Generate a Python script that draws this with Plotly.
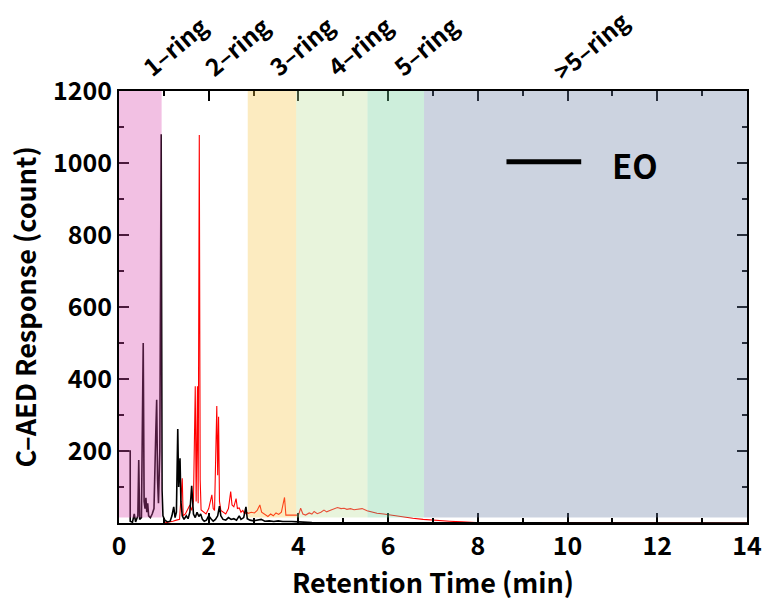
import plotly.graph_objects as go

# EO chromatogram (black)
eo_time = [0.00, 0.25, 0.25, 0.30, 0.34, 0.37, 0.42, 0.44, 0.46, 0.50, 0.54, 0.56, 0.58, 0.60,
           0.62, 0.64, 0.66, 0.70, 0.74, 0.78, 0.82, 0.84, 0.86, 0.88, 0.91, 0.94, 0.96, 0.98,
           1.02, 1.08, 1.14, 1.18, 1.22, 1.25, 1.28, 1.31, 1.33, 1.34, 1.36, 1.38, 1.41, 1.45,
           1.50, 1.54, 1.58, 1.62, 1.64, 1.66, 1.70, 1.74, 1.78, 1.82, 1.86, 1.90, 1.95, 2.00,
           2.05, 2.10, 2.15, 2.20, 2.24, 2.27, 2.32, 2.38, 2.44, 2.50, 2.56, 2.62, 2.68, 2.72,
           2.78, 2.83, 2.86, 2.92, 3.00, 3.08, 3.17, 3.25, 3.35, 3.45, 3.55, 3.65, 3.75, 3.85,
           4.00, 4.30, 5.00, 6.00, 8.00, 14.00]
eo_resp = [200, 200, 5, 2, 25, 3, 20, 175, 10, 15, 500, 60, 40, 70,
           30, 55, 20, 15, 25, 40, 250, 342, 120, 55, 200, 1080, 90, 20,
           8, 3, 5, 20, 45, 15, 30, 261, 100, 160, 180, 60, 20, 10,
           20, 12, 30, 103, 40, 25, 15, 30, 18, 25, 10, 5, 8, 20,
           12, 5, 10, 20, 47, 20, 10, 8, 15, 10, 12, 8, 20, 10,
           15, 45, 12, 8, 6, 8, 10, 5, 6, 4, 6, 4, 5, 4,
           3, 1, 0.5, 0.3, 0.2, 0]

# second chromatogram (red)
red_time = [1.00, 1.10, 1.20, 1.28, 1.35, 1.41, 1.43, 1.48, 1.53, 1.58, 1.62, 1.66, 1.70, 1.72,
            1.75, 1.765, 1.79, 1.81, 1.83, 1.88, 1.94, 2.00, 2.04, 2.07, 2.10, 2.13, 2.18, 2.20,
            2.22, 2.24, 2.27, 2.32, 2.38, 2.44, 2.49, 2.52, 2.56, 2.61, 2.64, 2.68, 2.72, 2.76,
            2.80, 2.84, 2.88, 2.95, 3.02, 3.08, 3.14, 3.18, 3.24, 3.32, 3.38, 3.44, 3.50, 3.56,
            3.62, 3.69, 3.72, 3.80, 3.90, 4.00, 4.05, 4.10, 4.16, 4.24, 4.30, 4.35, 4.42, 4.50,
            4.57, 4.63, 4.70, 4.78, 4.87, 4.95, 5.02, 5.08, 5.16, 5.24, 5.32, 5.42, 5.53, 5.65,
            5.75, 5.90, 6.05, 6.20, 6.34, 6.55, 6.78, 7.05, 7.37, 7.65, 7.96, 9.00, 10.00, 11.00,
            12.00, 13.00, 14.00]
red_resp = [0, 2, 5, 8, 10, 124, 20, 25, 40, 50, 35, 60, 380, 60,
            380, 55, 1078, 120, 36, 30, 25, 40, 60, 78, 40, 35, 325, 133,
            295, 60, 35, 30, 25, 40, 87, 50, 45, 68, 40, 42, 30, 35,
            25, 30, 27, 30, 28, 35, 50, 30, 25, 18, 25, 20, 28, 24,
            30, 71, 22, 22, 20, 22, 41, 25, 22, 28, 25, 32, 26, 30,
            36, 31, 35, 38, 43, 40, 41, 38, 40, 37, 38, 40, 34, 30,
            27, 25, 22, 19, 16, 13, 10, 7, 5, 3, 1.5, 1, 1, 1.5,
            1, 0.5, 0]

# ring-number retention windows
ring_labels = ["1–ring", "2–ring", "3–ring", "4–ring", "5–ring", ">5–ring"]
ring_start = [0.0, 0.95, 2.87, 3.95, 5.54, 6.80]
ring_end = [0.95, 2.87, 3.95, 5.54, 6.80, 14.0]
ring_colors = ["rgb(218,75,175)", None, "rgb(246,198,75)", "rgb(189,224,155)",
               "rgb(112,206,152)", "rgb(109,129,166)"]
label_pos = [1.24, 2.62, 4.06, 5.36, 6.83, 10.50]

FONT = "Noto Sans CJK JP"

fig = go.Figure()
fig.add_trace(go.Scatter(x=red_time, y=red_resp, mode="lines",
                         line=dict(color="rgb(255,0,0)", width=1.1), showlegend=False))
fig.add_trace(go.Scatter(x=eo_time, y=eo_resp, mode="lines", name="EO",
                         line=dict(color="black", width=1.6), showlegend=False))

for x0, x1, c in zip(ring_start, ring_end, ring_colors):
    if c is None:
        continue
    fig.add_shape(type="rect", xref="x", yref="y", x0=x0, x1=x1, y0=15, y1=1200,
                  fillcolor=c, opacity=0.35, line_width=0, layer="above")

for lab, xp in zip(ring_labels, label_pos):
    fig.add_annotation(x=xp, y=1.105, xref="x", yref="paper", text=lab, showarrow=False,
                       textangle=-40, xanchor="center", yanchor="middle",
                       font=dict(family=FONT, size=24, color="black", weight="bold"))

# legend key
fig.add_shape(type="line", xref="paper", yref="paper", x0=0.617, x1=0.736, y0=0.836, y1=0.836,
              line=dict(color="black", width=5), layer="above")
fig.add_annotation(x=0.822, y=0.829, xref="paper", yref="paper", text="EO", showarrow=False,
                   xanchor="center", yanchor="middle",
                   font=dict(family=FONT, size=33, color="black", weight="bold"))

fig.update_layout(
    width=774, height=604,
    margin=dict(l=119, r=20, t=91, b=81),
    paper_bgcolor="white", plot_bgcolor="white",
    showlegend=False,
)
fig.update_xaxes(range=[0, 14], tickvals=[0, 2, 4, 6, 8, 10, 12, 14],
                 ticks="inside", ticklen=10, tickwidth=1.5, tickcolor="black",
                 minor=dict(ticks="inside", ticklen=5, dtick=1, tickcolor="black"),
                 showline=True, linecolor="black", linewidth=2, mirror="ticks",
                 showgrid=False, zeroline=False,
                 tickfont=dict(family=FONT, size=25, color="black", weight="bold"),
                 title=dict(text="Retention Time (min)", standoff=11,
                            font=dict(family=FONT, size=27, color="black", weight="bold")))
fig.update_yaxes(range=[0, 1200], tickvals=[200, 400, 600, 800, 1000, 1200],
                 ticks="inside", ticklen=10, tickwidth=1.5, tickcolor="black",
                 minor=dict(ticks="inside", ticklen=5, dtick=100, tickcolor="black"),
                 showline=True, linecolor="black", linewidth=2, mirror="ticks",
                 showgrid=False, zeroline=False,
                 tickfont=dict(family=FONT, size=25, color="black", weight="bold"),
                 title=dict(text="C–AED Response (count)", standoff=9,
                            font=dict(family=FONT, size=27, color="black", weight="bold")))

fig.write_html("out.html")
